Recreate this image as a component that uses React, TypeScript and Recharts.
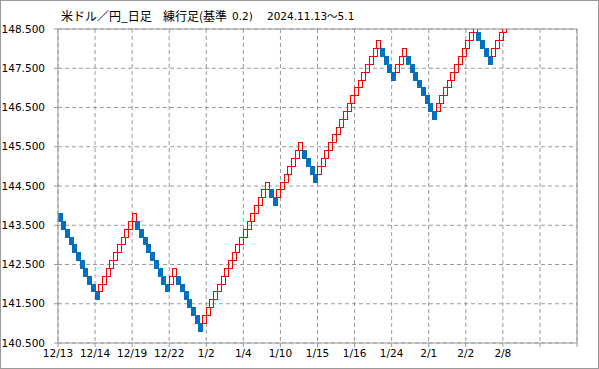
import React from 'react'
import { ComposedChart, Bar, XAxis, YAxis, CartesianGrid, ReferenceLine } from 'recharts'

// renko bricks (0.2 yen), lower edge of each brick, left to right
const BRICK_LOWS = [
  143.6, 143.4, 143.2, 143.0, 142.8, 142.6, 142.4, 142.2, 142.0, 141.8, 141.6,
  141.8, 142.0, 142.2, 142.4, 142.6, 142.8, 143.0, 143.2, 143.4, 143.6,
  143.4, 143.2, 143.0, 142.8, 142.6, 142.4, 142.2, 142.0, 141.8,
  142.0, 142.2,
  142.0, 141.8, 141.6, 141.4, 141.2, 141.0, 140.8,
  141.0, 141.2, 141.4, 141.6, 141.8, 142.0, 142.2, 142.4, 142.6, 142.8, 143.0, 143.2, 143.4, 143.6, 143.8, 144.0, 144.2, 144.4,
  144.2, 144.0,
  144.2, 144.4, 144.6, 144.8, 145.0, 145.2, 145.4,
  145.2, 145.0, 144.8, 144.6,
  144.8, 145.0, 145.2, 145.4, 145.6, 145.8, 146.0, 146.2, 146.4, 146.6, 146.8, 147.0, 147.2, 147.4, 147.6, 147.8, 148.0,
  147.8, 147.6, 147.4, 147.2,
  147.4, 147.6, 147.8,
  147.6, 147.4, 147.2, 147.0, 146.8, 146.6, 146.4, 146.2,
  146.4, 146.6, 146.8, 147.0, 147.2, 147.4, 147.6, 147.8, 148.0, 148.2, 148.4,
  148.2, 148.0, 147.8, 147.6,
  147.8, 148.0, 148.2, 148.4,
]

// 1 = up (red, hollow), 0 = down (blue, filled)
const BRICK_UP = [
  0, 0, 0, 0, 0, 0, 0, 0, 0, 0, 0,
  1, 1, 1, 1, 1, 1, 1, 1, 1, 1,
  0, 0, 0, 0, 0, 0, 0, 0, 0,
  1, 1,
  0, 0, 0, 0, 0, 0, 0,
  1, 1, 1, 1, 1, 1, 1, 1, 1, 1, 1, 1, 1, 1, 1, 1, 1, 1,
  0, 0,
  1, 1, 1, 1, 1, 1, 1,
  0, 0, 0, 0,
  1, 1, 1, 1, 1, 1, 1, 1, 1, 1, 1, 1, 1, 1, 1, 1, 1,
  0, 0, 0, 0,
  1, 1, 1,
  0, 0, 0, 0, 0, 0, 0, 0,
  1, 1, 1, 1, 1, 1, 1, 1, 1, 1, 1,
  0, 0, 0, 0,
  1, 1, 1, 1,
]

const BRICK_SIZE = 0.2
const SLOTS = 140

const X_TICKS = [0, 10, 20, 30, 40, 50, 60, 70, 80, 90, 100, 110, 120, 130, 140]
const X_LABELS = ['12/13', '12/14', '12/19', '12/22', '1/2', '1/4', '1/10', '1/15', '1/16', '1/24', '2/1', '2/2', '2/8', '', '']
const Y_TICKS = [140.5, 141.5, 142.5, 143.5, 144.5, 145.5, 146.5, 147.5, 148.5]

const UP_COLOR = '#ff0000'
const DOWN_COLOR = '#0070c0'
const GRID = '#9a9a9a'
const LATIN = '"DejaVu Sans", "Noto Sans CJK JP", sans-serif'
const TICK_FONT = { fontFamily: LATIN, fontSize: 10.5, fill: '#000' }

const rows = Array.from({ length: SLOTS }, (_, i) => ({
  i,
  range: i < BRICK_LOWS.length ? [BRICK_LOWS[i], BRICK_LOWS[i] + BRICK_SIZE] : null,
  up: BRICK_UP[i] === 1,
}))

const Brick = (props: any) => {
  const { x, y, width, height, payload } = props
  if (!payload || payload.range == null || !height) return null
  const up = payload.up
  return (
    <rect
      x={x}
      y={y}
      width={width}
      height={height}
      fill={up ? '#fff' : DOWN_COLOR}
      fillOpacity={up ? 0 : 1}
      stroke={up ? UP_COLOR : DOWN_COLOR}
      strokeWidth={1}
      shapeRendering="crispEdges"
    />
  )
}

export default function App() {
  return (
    <div style={{ position: 'relative', width: 599, height: 369, background: '#fff' }}>
      <style>{'body{margin:0}'}</style>
      <ComposedChart
        width={599}
        height={369}
        data={rows}
        margin={{ top: 29, right: 22, bottom: 6, left: 0 }}
        barCategoryGap={0}
        barGap={0}
      >
        <CartesianGrid xAxisId="num" stroke={GRID} strokeDasharray="4 3" />
        <XAxis
          xAxisId="num"
          dataKey="i"
          type="number"
          domain={[0, 140]}
          allowDataOverflow
          ticks={X_TICKS}
          interval={0}
          tickFormatter={(v: number) => X_LABELS[X_TICKS.indexOf(v)] ?? ''}
          height={20}
          tickSize={4}
          tickMargin={3}
          stroke={GRID}
          tick={TICK_FONT}
        />
        <XAxis xAxisId="cat" dataKey="i" type="category" hide height={0} />
        <YAxis
          domain={[140.5, 148.5]}
          allowDataOverflow
          ticks={Y_TICKS}
          interval={0}
          width={58}
          tickSize={4}
          tickMargin={9}
          tickFormatter={(v: number) => v.toFixed(3)}
          stroke={GRID}
          tick={TICK_FONT}
        />
        <Bar xAxisId="cat" dataKey="range" shape={Brick} isAnimationActive={false} />
        <ReferenceLine xAxisId="num" y={148.5} stroke={GRID} />
        <ReferenceLine xAxisId="num" x={140} stroke={GRID} />
      </ComposedChart>
      <div
        style={{
          position: 'absolute',
          top: 8,
          left: 0,
          fontFamily: '"Noto Sans CJK JP", sans-serif',
          fontSize: 12,
          color: '#000',
          whiteSpace: 'pre',
          lineHeight: '16px',
        }}
      >
        <span style={{ position: 'absolute', left: 61 }}>米ドル／円_日足</span>
        <span style={{ position: 'absolute', left: 163 }}>練行足(基準</span>
        <span style={{ position: 'absolute', left: 232, fontFamily: LATIN, fontSize: 10.5 }}>0.2)</span>
        <span style={{ position: 'absolute', left: 267, fontFamily: LATIN, fontSize: 10.5 }}>2024.11.13～5.1</span>
      </div>
      <div
        style={{
          position: 'absolute',
          inset: 0,
          border: '1px solid #9a9a9a',
          boxSizing: 'border-box',
          pointerEvents: 'none',
        }}
      />
    </div>
  )
}
